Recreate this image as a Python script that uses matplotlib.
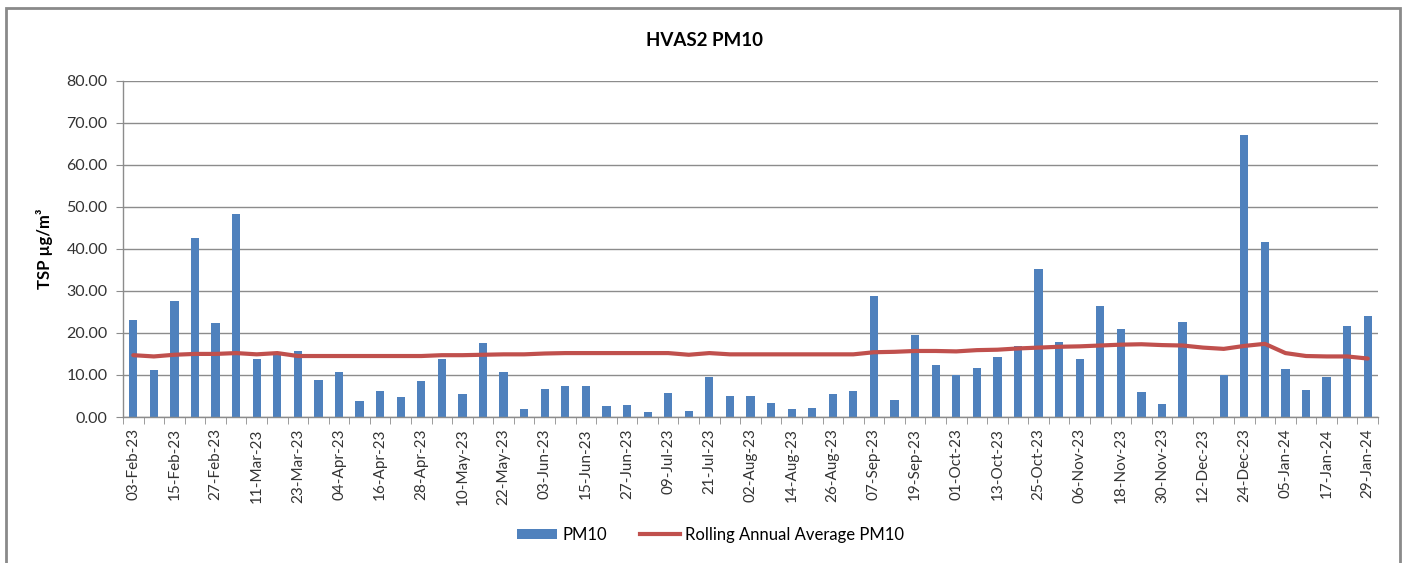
import numpy as np
import pandas as pd
import matplotlib
matplotlib.use('Agg')
import matplotlib.pyplot as plt
from matplotlib.patches import Rectangle, Patch
from matplotlib.lines import Line2D
from matplotlib.ticker import FuncFormatter

plt.rcParams['font.family'] = ['Lato', 'DejaVu Sans']

# sample dates, every 6 days
dates = pd.date_range('2023-02-03', '2024-01-29', freq='6D')
date_labels = [d.strftime('%d-%b-%y') for d in dates]

# PM10 values (NaN = no sample)
pm10 = [23.0, 11.1, 27.5, 42.5, 22.3, 48.2, 13.7, 15.2, 15.6, 8.7,
        10.8, 3.9, 6.2, 4.7, 8.5, 13.9, 5.5, 17.5, 10.8, 1.8,
        6.7, 7.3, 7.3, 2.6, 2.9, 1.1, 5.8, 1.4, 9.6, 4.9,
        4.9, 3.4, 1.8, 2.1, 5.5, 6.3, 28.7, 4.0, 19.5, 12.4,
        10.0, 11.6, 14.2, 17.0, 35.2, 17.8, 13.9, 26.4, 20.9, 6.0,
        3.2, 22.6, np.nan, 10.0, 67.1, 41.5, 11.3, 6.5, 9.5, 21.6,
        24.1]

rolling_avg = [14.7, 14.4, 14.8, 15.0, 15.0, 15.2, 14.9, 15.2, 14.5, 14.5,
               14.5, 14.5, 14.5, 14.5, 14.5, 14.7, 14.7, 14.8, 14.9, 14.9,
               15.1, 15.2, 15.2, 15.2, 15.2, 15.2, 15.2, 14.8, 15.2, 14.9,
               14.9, 14.9, 14.9, 14.9, 14.9, 14.9, 15.4, 15.5, 15.7, 15.7,
               15.6, 15.9, 16.0, 16.3, 16.5, 16.7, 16.8, 17.0, 17.2, 17.3,
               17.1, 17.0, 16.5, 16.2, 16.9, 17.4, 15.2, 14.5, 14.4, 14.4,
               13.9]

bar_color = '#4F81BD'
line_color = '#C0504D'
grid_color = '#8C8C8C'

fig = plt.figure(figsize=(14.07, 5.63), dpi=100)
ax = fig.add_axes([0.0874, 0.2593, 0.892, 0.5977])

x = np.arange(len(dates))
ax.bar(x, pm10, width=0.4, color=bar_color, zorder=2)
ax.plot(x, rolling_avg, color=line_color, lw=3, zorder=3, solid_capstyle='round')

ax.set_xlim(-0.5, len(dates) - 0.5)
ax.set_ylim(0, 80)
ax.set_yticks(np.arange(0, 81, 10))
ax.yaxis.set_major_formatter(FuncFormatter(lambda v, p: f'{v:.2f}'))
ax.grid(axis='y', color=grid_color, lw=1.0, zorder=0)
ax.set_axisbelow(True)

# labels every other category, tick marks between categories
ax.set_xticks(x[::2])
ax.set_xticklabels(date_labels[::2], rotation=90, fontsize=11, color='#333333')
ax.tick_params(axis='x', which='major', length=0, pad=8)
ax.set_xticks(np.arange(-0.5, len(dates)), minor=True)
ax.tick_params(axis='x', which='minor', length=5, color=grid_color, direction='out')
ax.tick_params(axis='y', length=5, color=grid_color, labelsize=11.5, pad=6, labelcolor='#333333')

for s in ['top', 'right']:
    ax.spines[s].set_visible(False)
for s in ['left', 'bottom']:
    ax.spines[s].set_color(grid_color)
    ax.spines[s].set_linewidth(1.0)

ax.set_ylabel('TSP µg/m³', fontsize=12, fontweight='bold', labelpad=10)
fig.text(0.501, 0.928, 'HVAS2 PM10', ha='center', va='center', fontsize=13.5, fontweight='bold')

handles = [Patch(facecolor=bar_color), Line2D([0], [0], color=line_color, lw=3)]
fig.legend(handles, ['PM10', 'Rolling Annual Average PM10'], loc='center',
           bbox_to_anchor=(0.505, 0.05), ncol=2, frameon=False, fontsize=12,
           handlelength=2.4, handleheight=0.6, columnspacing=2.0, handletextpad=0.3)

# chart area border
fig.patches.append(Rectangle((6 / 1407, -0.05), (1400 - 6) / 1407, 1.05 - 8 / 563,
                             transform=fig.transFigure, fill=False,
                             edgecolor='#8A8A8A', lw=2))

fig.savefig('out.png', dpi=100)
